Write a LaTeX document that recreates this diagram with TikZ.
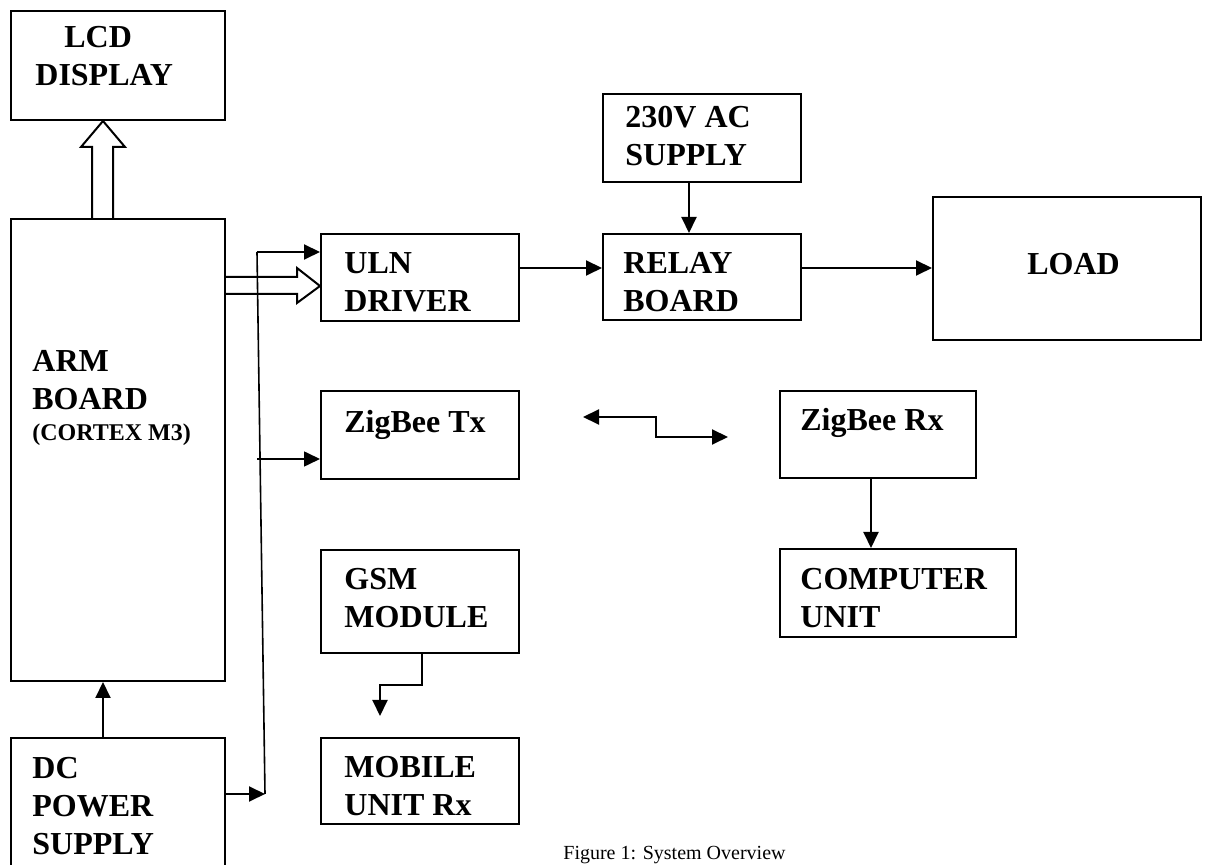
\documentclass[tikz,border=0pt]{standalone}
\usepackage{fontspec}
\setmainfont{Liberation Serif}
\usepackage{tikz}
\usetikzlibrary{arrows.meta, calc}

\begin{document}
\begin{tikzpicture}[x=0.5pt, y=-0.5pt,
        blk/.style={draw, line width=1pt, anchor=north west, inner sep=0pt},
        lbl/.style={anchor=north west, inner sep=0pt, align=left,
                    font=\fontsize{16}{19}\selectfont\bfseries},
        arr/.style={-{Triangle[length=8pt, width=7.5pt]}, line width=1pt},
        hol/.style={draw, line width=1pt, fill=white}]
        \useasboundingbox (0,0) rectangle (1212,865);
        \clip (0,0) rectangle (1212,865);
        % blocks
        \node[blk, minimum width=107pt, minimum height=54.5pt] (lcd) at (10,10) {};
        \node[blk, minimum width=107pt, minimum height=231pt] (arm) at (10,218) {};
        \node[blk, minimum width=107pt, minimum height=75pt] (dc) at (10,737) {};
        \node[blk, minimum width=99pt, minimum height=43.5pt] (uln) at (320,233) {};
        \node[blk, minimum width=99pt, minimum height=44pt] (ztx) at (320,390) {};
        \node[blk, minimum width=99pt, minimum height=51.5pt] (gsm) at (320,549) {};
        \node[blk, minimum width=99pt, minimum height=43pt] (mob) at (320,737) {};
        \node[blk, minimum width=99pt, minimum height=44pt] (ac) at (602,93) {};
        \node[blk, minimum width=99pt, minimum height=43pt] (relay) at (602,233) {};
        \node[blk, minimum width=134pt, minimum height=71.5pt] (load) at (932,196) {};
        \node[blk, minimum width=98pt, minimum height=43.5pt] (zrx) at (779,390) {};
        \node[blk, minimum width=118pt, minimum height=44pt] (comp) at (779,548) {};
        % labels
        \node[lbl] (lcdtxt) at (35,26) {\hspace*{14.5pt}LCD\\DISPLAY};
        \node[lbl] (armtxt) at (32,350) {ARM\\BOARD};
        \node[anchor=base west, inner sep=0pt, font=\fontsize{12}{14}\selectfont\bfseries]
          (armsub) at (32,441) {(CORTEX M3)};
        \node[lbl] (dctxt) at (32,757) {DC\\POWER\\SUPPLY};
        \node[lbl] (ulntxt) at (344,252) {ULN\\DRIVER};
        \node[lbl] (ztxtxt) at (344,410) {ZigBee Tx};
        \node[lbl] (gsmtxt) at (344,568) {GSM\\MODULE};
        \node[lbl] (mobtxt) at (344,756) {MOBILE\\UNIT Rx};
        \node[lbl] (actxt) at (625,106) {230V AC\\SUPPLY};
        \node[lbl] (relaytxt) at (623,252) {RELAY\\BOARD};
        \node[lbl] (loadtxt) at (1027,253) {LOAD};
        \node[lbl] (zrxtxt) at (800,408) {ZigBee Rx};
        \node[lbl] (comptxt) at (800,568) {COMPUTER\\UNIT};
        \node[anchor=base west, inner sep=0pt, font=\fontsize{10}{12}\selectfont]
          (caption) at (563,860) {Figure 1: System Overview};
        % block arrows
        \draw[hol] ($(arm.north west)+(82,0)$) -- ($(lcd.south west)+(82,26)$)
          -- ($(lcd.south west)+(71,26)$) -- ($(lcd.south west)+(93,0)$)
          -- ($(lcd.south west)+(115,26)$) -- ($(lcd.south west)+(103,26)$)
          -- ($(arm.north west)+(103,0)$);
        \draw[hol] ($(arm.north east)+(0,59)$) -- ($(uln.north west)+(-23,44)$)
          -- ($(uln.north west)+(-23,35)$) -- ($(uln.north west)+(0,53)$)
          -- ($(uln.north west)+(-23,70)$) -- ($(uln.north west)+(-23,61)$)
          -- ($(arm.north east)+(0,76)$);
        % power rail
        \coordinate (pwbot) at (265,794);
        \coordinate (pwtop) at (257,252);
        \coordinate (pwtap) at (257,459);
        \draw[arr] ($(dc.north west)+(93,0)$) -- ($(arm.south west)+(93,0)$);
        \draw[arr] (dc.east |- pwbot) -- (pwbot);
        \draw[line width=0.8pt] (pwbot) -- (pwtop);
        \draw[arr] (pwtop) -- (pwtop -| uln.west);
        \draw[arr, line width=0.8pt] (pwtap) -- (pwtap -| ztx.west);
        % signal path
        \draw[arr] ($(uln.north east)+(0,35)$) -- ($(relay.north west)+(0,35)$);
        \draw[arr] ($(ac.south west)+(87,0)$) -- ($(relay.north west)+(87,0)$);
        \draw[arr] ($(relay.north east)+(0,35)$) -- ($(load.north west)+(0,72)$);
        \draw[arr] ($(zrx.south west)+(92,0)$) -- ($(comp.north west)+(92,0)$);
        \coordinate (zlink1) at (583,417);
        \coordinate (zlink2) at (728,437);
        \draw[{Triangle[length=8pt, width=7.5pt]}-{Triangle[length=8pt, width=7.5pt]}, line width=1pt]
          (zlink1) -- (656,417) |- (zlink2);
        \coordinate (gsmend) at ($(mob.north west)+(60,-21)$);
        \draw[arr] ($(gsm.south west)+(102,0)$) |- ($(gsm.south west)+(60,31)$) -- (gsmend);
      \end{tikzpicture}
\end{document}
